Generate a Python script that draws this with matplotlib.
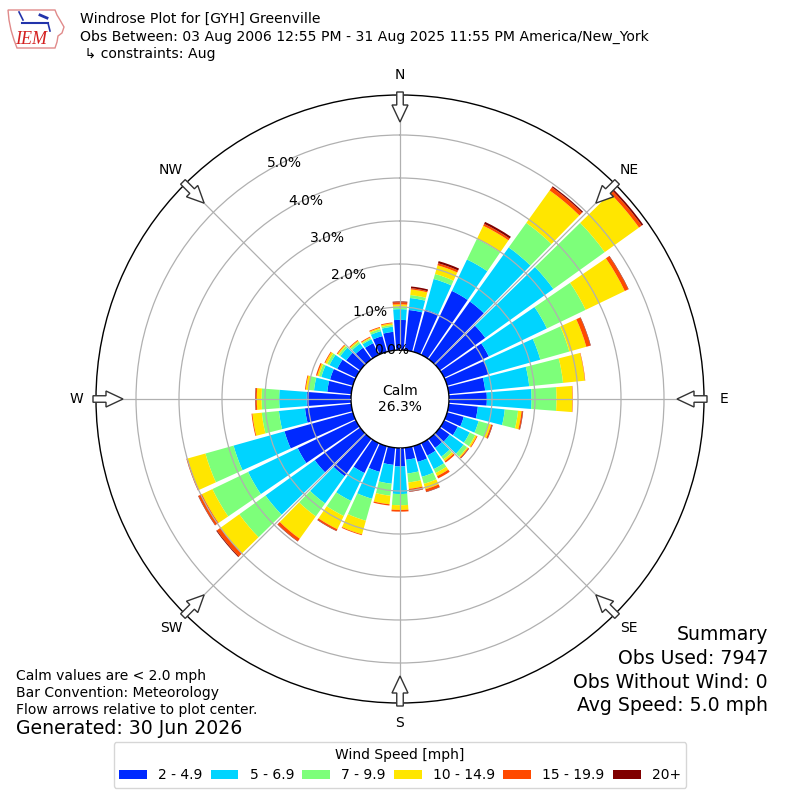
import numpy as np
import matplotlib
matplotlib.use('Agg')
import matplotlib.pyplot as plt
from matplotlib.patches import FancyArrow, Polygon, Patch

# direction bins (degrees, meteorological) and speed classes
directions = np.arange(0, 360, 10)
speed_labels = ['2 - 4.9', '5 - 6.9', '7 - 9.9', '10 - 14.9', '15 - 19.9', '20+']
colors = ['#0029ff', '#00d4ff', '#7dff7a', '#ffe600', '#ff4a00', '#800000']

# percent of observations per direction for each speed class
pct_2_5 = [0.70, 0.94, 1.02, 1.65, 1.65, 1.30, 1.15, 1.00, 0.85, 0.88, 0.68, 0.40,
           0.35, 0.28, 0.26, 0.32, 0.38, 0.28, 0.43, 0.40, 0.62, 0.77, 1.07, 1.30,
           1.50, 1.65, 1.08, 1.03, 0.56, 0.55, 0.48, 0.40, 0.33, 0.30, 0.38, 0.43]
pct_5_7 = [0.25, 0.28, 0.74, 0.81, 1.55, 1.95, 1.50, 1.25, 1.03, 1.04, 0.63, 0.36,
           0.31, 0.40, 0.25, 0.35, 0.36, 0.32, 0.64, 0.44, 0.65, 0.72, 0.78, 1.41,
           1.28, 1.23, 0.61, 0.64, 0.31, 0.21, 0.20, 0.17, 0.12, 0.10, 0.12, 0.12]
pct_7_10 = [0.06, 0.07, 0.12, 0.53, 0.70, 1.47, 1.00, 0.70, 0.79, 0.58, 0.31, 0.24,
            0.14, 0.10, 0.08, 0.10, 0.17, 0.21, 0.26, 0.28, 0.53, 0.39, 0.37, 0.75,
            0.92, 0.68, 0.40, 0.41, 0.13, 0.06, 0.06, 0.05, 0.05, 0.03, 0.05, 0.04]
pct_10_15 = [0.05, 0.13, 0.21, 0.34, 0.93, 0.98, 1.01, 0.41, 0.51, 0.37, 0.08, 0.06,
             0.04, 0.03, 0.05, 0.08, 0.13, 0.15, 0.11, 0.20, 0.33, 0.34, 0.64, 0.54,
             0.27, 0.43, 0.22, 0.11, 0.06, 0.04, 0.05, 0.03, 0.03, 0.02, 0.03, 0.04]
pct_15_20 = [0.05, 0.03, 0.05, 0.05, 0.09, 0.08, 0.09, 0.10, 0.01, 0.01, 0.03, 0.03,
             0.02, 0.02, 0.04, 0.06, 0.06, 0.06, 0.04, 0.03, 0.02, 0.04, 0.07, 0.10,
             0.09, 0.03, 0.02, 0.03, 0.02, 0.03, 0.02, 0.02, 0.02, 0.02, 0.02, 0.02]
pct_20p = [0.02, 0.04, 0.05, 0.05, 0.03, 0.04, 0.01, 0.01, 0.00, 0.00, 0.01, 0.01,
           0.00, 0.01, 0.00, 0.00, 0.01, 0.01, 0.00, 0.00, 0.00, 0.01, 0.01, 0.02,
           0.01, 0.00, 0.00, 0.01, 0.00, 0.00, 0.00, 0.00, 0.00, 0.00, 0.00, 0.00]
calm_pct = 26.3
rings = [0, 1, 2, 3, 4, 5]

compass = ['N', 'NE', 'E', 'SE', 'S', 'SW', 'W', 'NW']
compass_deg = np.arange(0, 360, 45)

# geometry in pixels (800x800 figure)
cx, cy = 400, 399
calm_px = 49
px_per_pct = 43
outer_px = 304
rmax = (outer_px - calm_px) / px_per_pct
rorigin = -calm_px / px_per_pct

fig = plt.figure(figsize=(8, 8), dpi=100)
ax = fig.add_axes([(cx - outer_px) / 800, (800 - cy - outer_px) / 800,
                   2 * outer_px / 800, 2 * outer_px / 800], projection='polar')
ax.set_theta_zero_location('N')
ax.set_theta_direction(-1)
ax.set_ylim(0, rmax)
ax.set_rorigin(rorigin)

theta = np.radians(directions)
width = np.radians(10) * 0.87
bottom = np.zeros(len(directions))
for vals, c in zip([pct_2_5, pct_5_7, pct_7_10, pct_10_15, pct_15_20, pct_20p], colors):
    vals = np.array(vals)
    ax.bar(theta, vals, width=width, bottom=bottom, color=c, linewidth=0, zorder=1)
    bottom += vals

ax.set_yticks(rings[1:])
ax.set_yticklabels([])
ax.set_xticks(np.radians(compass_deg))
ax.set_xticklabels([])
ax.tick_params(length=0)
ax.grid(True, color='#b0b0b0', linewidth=0.9)
ax.set_axisbelow(False)
ax.spines['polar'].set_linewidth(1.0)
ax.spines['inner'].set_linewidth(1.0)

for v in rings:
    ax.annotate(f'{v:.1f}%', xy=(np.radians(330), v), xytext=(11.5, 5),
                textcoords='offset points', ha='center', va='center', fontsize=10,
                zorder=5)

label_r = (324 - calm_px) / px_per_pct
for name, d in zip(compass, compass_deg):
    ax.text(np.radians(d), label_r, name, ha='center', va='center', fontsize=10,
            clip_on=False)

ax.text(0.5, 0.5, f'Calm\n{calm_pct:.1f}%', transform=ax.transAxes, ha='center',
        va='center', fontsize=10)

# overlay in pixel coordinates for arrows and logo
ov = fig.add_axes([0, 0, 1, 1], zorder=10)
ov.set_xlim(0, 800)
ov.set_ylim(800, 0)
ov.axis('off')
for d in compass_deg:
    ux, uy = np.sin(np.radians(d)), -np.cos(np.radians(d))
    tx, ty = cx + 307 * ux, cy + 307 * uy
    ov.add_patch(FancyArrow(tx, ty, -30 * ux, -30 * uy, width=6.5, head_width=16,
                            head_length=17, length_includes_head=True,
                            fc='white', ec='#333333', lw=1.0))

# rough IEM logo
iowa = [(8, 10), (55, 10), (57, 15), (60, 20), (64, 27), (62, 33), (58, 36),
        (57, 42), (55, 48), (17, 48), (14, 40), (11, 30), (9, 20)]
ov.add_patch(Polygon(iowa, closed=True, fill=False, ec='#e08a8a', lw=1.0))
ov.plot([22, 48], [23, 23], color='#2233aa', lw=1.5)
ov.plot([19, 23], [12, 20], color='#2233aa', lw=1.2)
ov.plot([40, 47], [15, 18], color='#2233aa', lw=2)
ov.plot([48, 50], [23, 31], color='#2233aa', lw=1.2)
ov.text(31, 39, 'IEM', color='#d42020', fontsize=13, family='Liberation Serif',
        style='italic', ha='center', va='center')

fig.text(80 / 800, 1 - 19 / 800, 'Windrose Plot for [GYH] Greenville', fontsize=10.1,
         ha='left', va='center')
fig.text(80 / 800, 1 - 37 / 800,
         'Obs Between: 03 Aug 2006 12:55 PM - 31 Aug 2025 11:55 PM America/New_York',
         fontsize=10.1, ha='left', va='center')
fig.text(80 / 800, 1 - 54 / 800, ' \u21b3 constraints: Aug', fontsize=10.1,
         ha='left', va='center')

summary = ['Summary', 'Obs Used: 7947', 'Obs Without Wind: 0', 'Avg Speed: 5.0 mph']
for i, s in enumerate(summary):
    fig.text(768 / 800, 1 - (635 + 23.5 * i) / 800, s, fontsize=13.6, ha='right',
             va='center')

notes = ['Calm values are < 2.0 mph', 'Bar Convention: Meteorology',
         'Flow arrows relative to plot center.']
for i, s in enumerate(notes):
    fig.text(16 / 800, 1 - (676 + 17 * i) / 800, s, fontsize=10, ha='left',
             va='center')
fig.text(16 / 800, 1 - 729 / 800, 'Generated: 30 Jun 2026', fontsize=13.6,
         ha='left', va='center')

handles = [Patch(facecolor=c, label=l) for c, l in zip(colors, speed_labels)]
fig.legend(handles=handles, loc='center', bbox_to_anchor=(0.5, 1 - 765 / 800),
           ncol=6, title='Wind Speed [mph]', fontsize=10, title_fontsize=10,
           columnspacing=0.6)

fig.savefig('out.png', dpi=100)
